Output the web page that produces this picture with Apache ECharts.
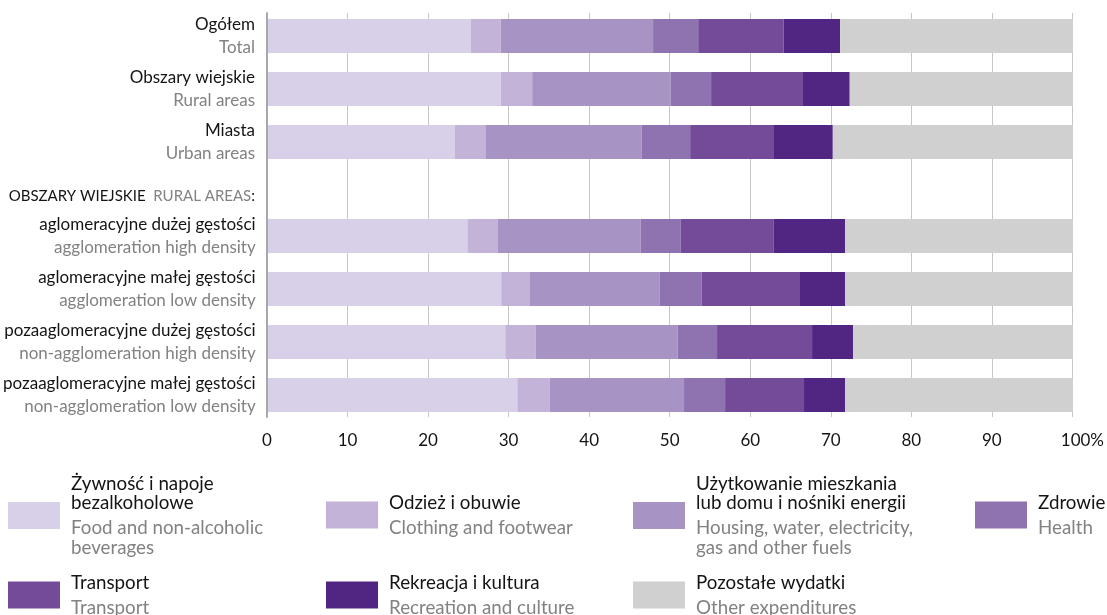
<!DOCTYPE html>
<html>
<head>
<meta charset="utf-8">
<script src="https://cdn.jsdelivr.net/npm/echarts@6/dist/echarts.min.js"></script>
<style>
  html, body { margin: 0; padding: 0; background: #fff; }
  #chart { width: 1107px; height: 615px; }
</style>
</head>
<body>
<div id="chart"></div>
<script>
// Row labels (Polish / English)
const topRowsPl = ['Ogółem', 'Obszary wiejskie', 'Miasta'];
const topRowsEn = ['Total', 'Rural areas', 'Urban areas'];
const ruralRowsPl = ['aglomeracyjne dużej gęstości', 'aglomeracyjne małej gęstości',
  'pozaaglomeracyjne dużej gęstości', 'pozaaglomeracyjne małej gęstości'];
const ruralRowsEn = ['agglomeration high density', 'agglomeration low density',
  'non-agglomeration high density', 'non-agglomeration low density'];

// Expenditure groups (legend)
const groupsPl = ['Żywność i napoje\nbezalkoholowe', 'Odzież i obuwie',
  'Użytkowanie mieszkania\nlub domu i nośniki energii', 'Zdrowie', 'Transport',
  'Rekreacja i kultura', 'Pozostałe wydatki'];
const groupsEn = ['Food and non-alcoholic\nbeverages', 'Clothing and footwear',
  'Housing, water, electricity,\ngas and other fuels', 'Health', 'Transport',
  'Recreation and culture', 'Other expenditures'];

// Shares in % — order: Total, Rural, Urban, then the four rural subtypes
const food       = [25.3, 29.0, 23.3, 24.8, 29.0, 29.5, 31.0];
const clothing   = [3.7, 3.9, 3.8, 3.8, 3.5, 3.8, 4.0];
const housing    = [18.9, 17.2, 19.4, 17.7, 16.2, 17.6, 16.7];
const health     = [5.6, 5.0, 6.0, 5.0, 5.2, 4.9, 5.1];
const transport  = [10.6, 11.4, 10.4, 11.5, 12.2, 11.8, 9.8];
const recreation = [7.0, 5.8, 7.3, 8.9, 5.6, 5.1, 5.1];
const other      = [28.9, 27.7, 29.8, 28.3, 28.3, 27.3, 28.3];

const xTicks = [0, 10, 20, 30, 40, 50, 60, 70, 80, 90, 100];
const headerPl = 'OBSZARY WIEJSKIE';
const headerEn = 'RURAL AREAS';

const values = [food, clothing, housing, health, transport, recreation, other];
const colors = ['#d8d0e8', '#c4b3d8', '#a794c4', '#8f73b1', '#744b98', '#512683', '#d0d0d0'];

const FONT = 'Lato';
const DARK = '#141414';
const GREY = '#828282';

const chart = echarts.init(document.getElementById('chart'), null, { renderer: 'canvas' });

const rowLabel = (pl, en) => '{pl|' + pl + '}\n{en|' + en + '}';
const labelRich = {
  pl: { fontFamily: FONT, fontSize: 17, color: DARK, lineHeight: 23, align: 'right' },
  en: { fontFamily: FONT, fontSize: 17, color: GREY, lineHeight: 23, align: 'right' }
};

const catAxis = (cats) => ({
  type: 'category', inverse: true, data: cats,
  axisLine: { show: false }, axisTick: { show: false }, splitLine: { show: false },
  axisLabel: {
    margin: 12,
    formatter: (v) => v,
    rich: labelRich
  }
});

const topCats = topRowsPl.map((p, i) => rowLabel(p, topRowsEn[i]));
const ruralCats = ruralRowsPl.map((p, i) => rowLabel(p, ruralRowsEn[i]));

const hiddenX = (gi) => ({
  type: 'value', gridIndex: gi, min: 0, max: 100, interval: 10, show: false
});

const series = [];
groupsPl.forEach((name, k) => {
  const base = {
    type: 'bar', name: name, barWidth: 34,
    itemStyle: { color: colors[k] },
    emphasis: { disabled: true },
    silent: true
  };
  series.push(Object.assign({}, base, {
    xAxisIndex: 1, yAxisIndex: 1, stack: 'top', data: values[k].slice(0, 3)
  }));
  series.push(Object.assign({}, base, {
    xAxisIndex: 2, yAxisIndex: 2, stack: 'rural', data: values[k].slice(3)
  }));
});

// legend: one component per group so each block sits at its own spot
const LF = 18.75;
const legendRich = {
  pl:  { fontFamily: FONT, fontSize: LF, color: DARK, lineHeight: 19.5, padding: [0, 0, 0, 6] },
  enf: { fontFamily: FONT, fontSize: LF, color: GREY, lineHeight: 25, verticalAlign: 'bottom', padding: [0, 0, 0, 6] },
  en:  { fontFamily: FONT, fontSize: LF, color: GREY, lineHeight: 19.5, padding: [0, 0, 0, 6] }
};
const legendText = (k) => {
  const pl = groupsPl[k].split('\n').map(s => '{pl|' + s + '}');
  const en = groupsEn[k].split('\n').map((s, i) => (i === 0 ? '{enf|' : '{en|') + s + '}');
  return pl.concat(en).join('\n');
};
const legendSpots = [[8, 474], [326, 493], [633, 474], [975, 493], [8, 573], [326, 573], [633, 573]];
const legends = groupsPl.map((name, k) => ({
  data: [name],
  left: legendSpots[k][0], top: legendSpots[k][1],
  padding: 0,
  itemWidth: 52, itemHeight: 27,
  icon: 'rect',
  selectedMode: false,
  formatter: () => legendText(k),
  textStyle: { rich: legendRich }
}));

const option = {
  animation: false,
  backgroundColor: '#fff',
  textStyle: { fontFamily: FONT },
  grid: [
    // full-height frame for the scale, gridlines and tick labels
    { left: 267, width: 806, top: 13, height: 404 },
    // national / rural / urban rows
    { left: 267, width: 806, top: 9.5, height: 159 },
    // rural subtype rows
    { left: 267, width: 806, top: 209.5, height: 212 }
  ],
  xAxis: [
    {
      type: 'value', gridIndex: 0, min: 0, max: 100, interval: 10,
      axisLine: { show: false }, axisTick: { show: false },
      splitLine: { show: true, lineStyle: { color: '#c6c6c6', width: 1 } },
      axisLabel: {
        margin: 15, fontFamily: FONT, fontSize: 17, color: DARK,
        formatter: (v) => v === xTicks[xTicks.length - 1] ? '{p|' + v + '%}' : String(v),
        rich: { p: { fontFamily: FONT, fontSize: 17, color: DARK, padding: [0, 0, 0, 20] } }
      }
    },
    hiddenX(1),
    hiddenX(2)
  ],
  yAxis: [
    {
      type: 'value', gridIndex: 0, min: 0, max: 1, z: 5,
      axisLine: { show: true, lineStyle: { color: '#a8a8a8', width: 2 } },
      axisTick: { show: false }, axisLabel: { show: false }, splitLine: { show: false }
    },
    Object.assign(catAxis(topCats), { gridIndex: 1 }),
    Object.assign(catAxis(ruralCats), { gridIndex: 2 })
  ],
  legend: legends,
  graphic: [{
    type: 'text', right: 1107 - 255, top: 189,
    style: {
      text: '{b|' + headerPl + '}{g|  ' + headerEn + '}{b|:}',
      rich: {
        b: { fontFamily: FONT, fontSize: 15, fill: DARK, color: DARK },
        g: { fontFamily: FONT, fontSize: 15, fill: GREY, color: GREY }
      }
    }
  }],
  series: series
};

chart.setOption(option);
</script>
</body>
</html>
